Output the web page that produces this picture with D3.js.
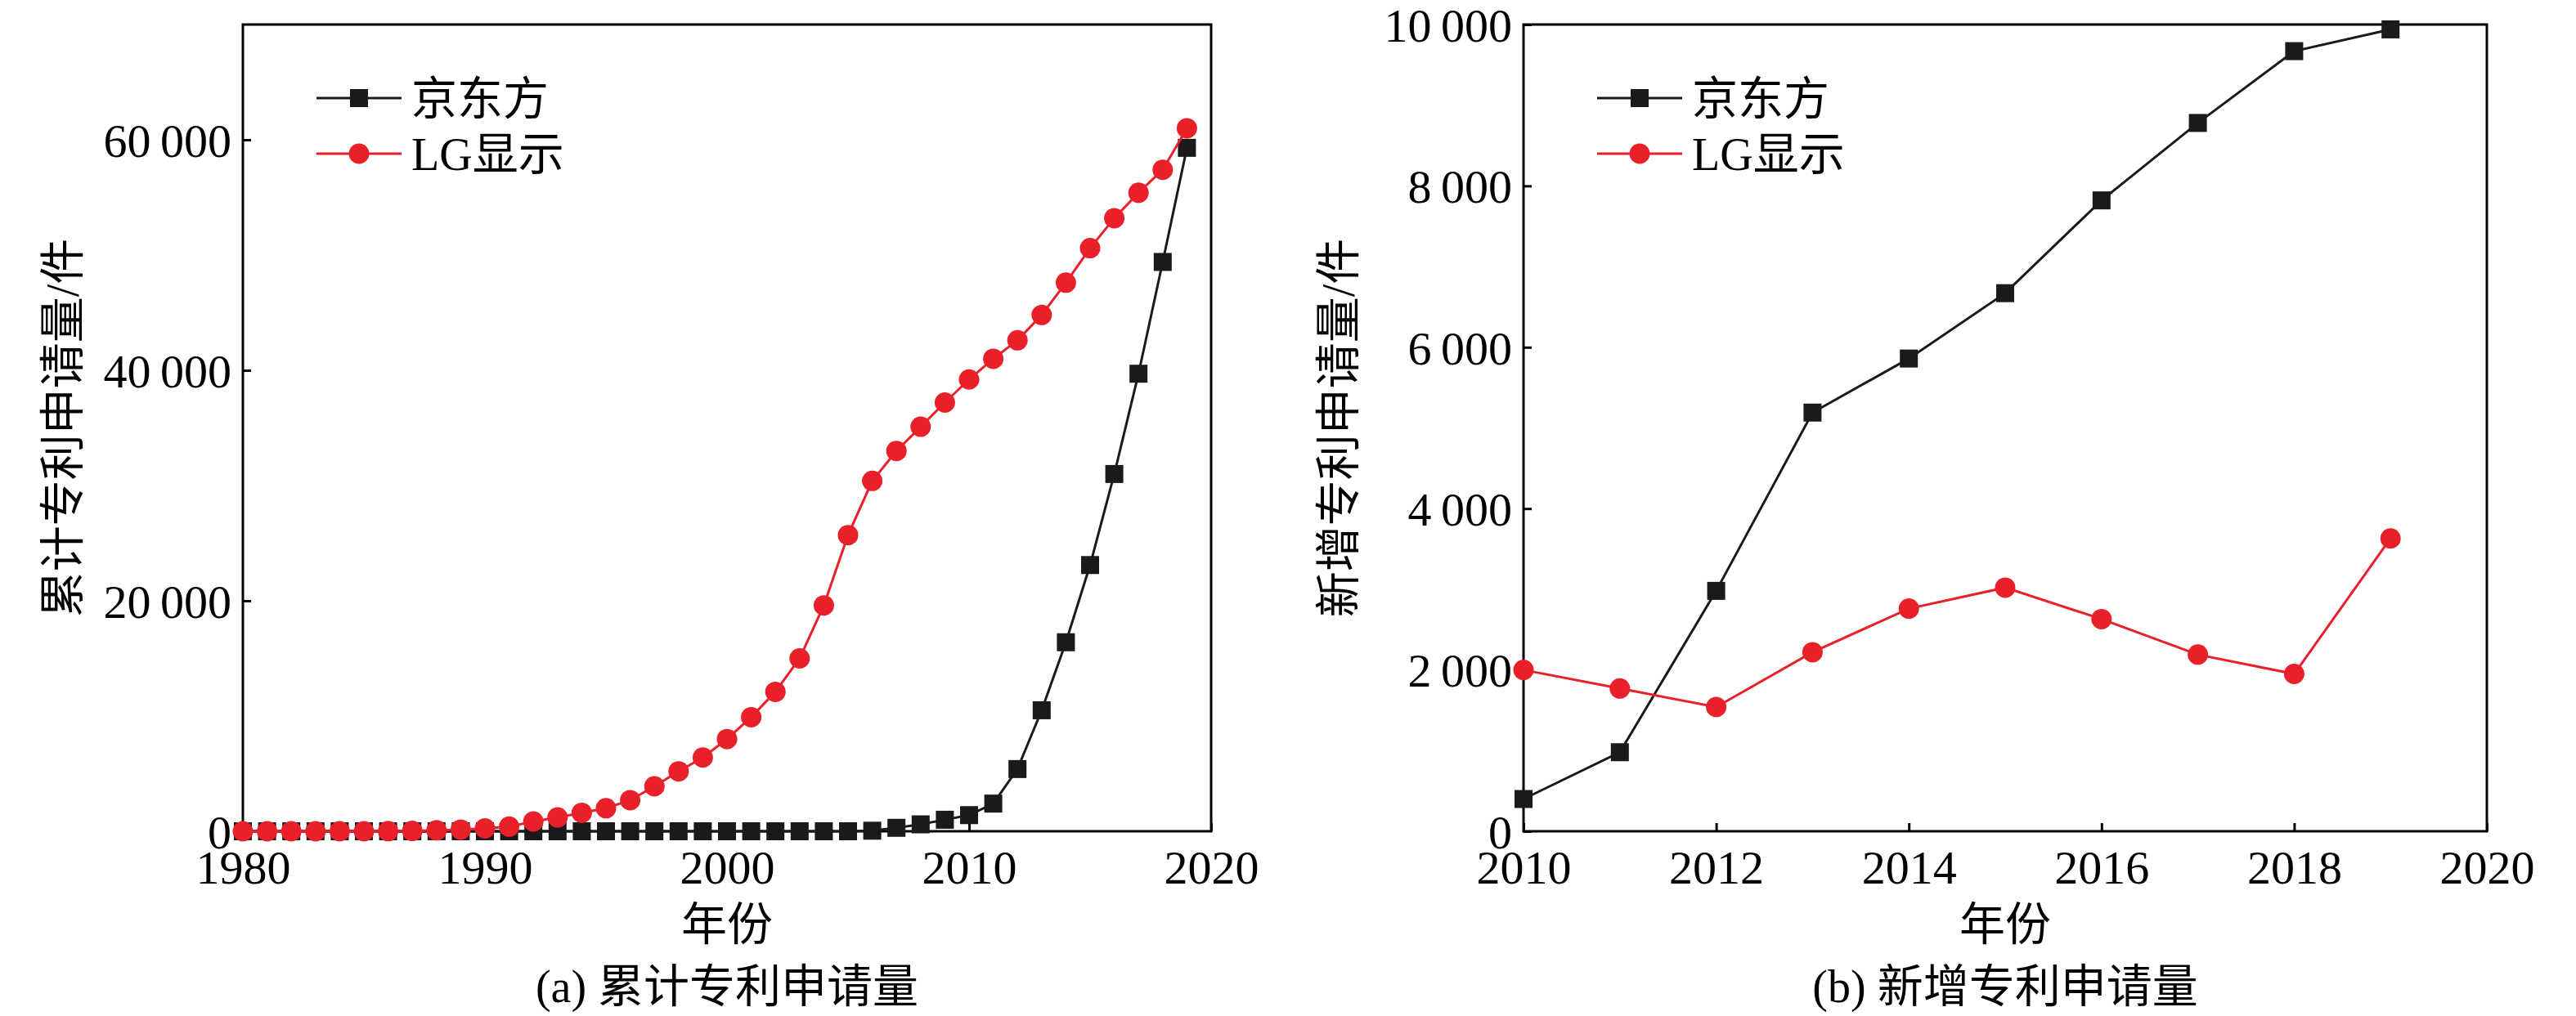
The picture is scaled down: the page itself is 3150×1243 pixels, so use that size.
<!DOCTYPE html>
<html><head><meta charset="utf-8">
<script src="https://cdn.jsdelivr.net/npm/d3@7"></script>
<style>body{margin:0;background:#fff}text{font-family:"Liberation Serif","Noto Sans CJK SC",serif}</style>
</head><body><svg id="c" width="3150" height="1243"></svg>
<script>
var yearsA = d3.range(1980, 2020);
var boeCum = [0,0,0,0,0,0,0,0,0,0, 0,0,0,0,0,0,0,0,0,0, 0,0,0,0,0,0,50,300,600,1000, 1400,2400,5400,10500,16400,23100,31000,39700,49400,59300];
var lgCum = [0,0,0,0,0,0,10,30,80,150, 250,400,850,1200,1600,2000,2700,3900,5200,6400, 8000,9900,12100,15000,19600,25700,30400,33000,35100,37200, 39200,41000,42600,44800,47600,50600,53200,55400,57400,61000];
var yearsB = d3.range(2010, 2020);
var boeNew = [400,980,2980,5190,5860,6670,7820,8780,9670,9940];
var lgNew = [2000,1770,1540,2220,2760,3020,2630,2190,1950,3630];
var seriesNames = ["京东方", "LG显示"];
var colors = ["#1a1a1a", "#e8202a"];

var svg = d3.select("#c");
var fmt = function(d){ return d3.format(",")(d).replace(/,/g, "\u2009"); };

function panel(o) {
  var g = svg.append("g");
  var x = d3.scaleLinear().domain(o.xd).range([o.l, o.r]);
  var y = d3.scaleLinear().domain(o.yd).range([o.b, o.t]);
  g.append("rect").attr("x", o.l).attr("y", o.t).attr("width", o.r - o.l).attr("height", o.b - o.t)
    .attr("fill", "none").attr("stroke", "#000").attr("stroke-width", 3);
  var ax = g.append("g").attr("transform", "translate(0," + o.b + ")")
    .call(d3.axisBottom(x).tickValues(o.xt).tickSize(-10).tickPadding(20).tickFormat(d3.format("d")));
  var ay = g.append("g").attr("transform", "translate(" + o.l + ",0)")
    .call(d3.axisLeft(y).tickValues(o.yt).tickSize(-10).tickPadding(14).tickFormat(fmt));
  [ax, ay].forEach(function(a){
    a.select(".domain").remove();
    a.selectAll("line").attr("stroke-width", 3);
    a.selectAll("text").attr("font-size", 58).attr("fill", "#000");
  });
  ax.selectAll("text").attr("dy", "0.75em");
  ay.selectAll("text").attr("dy", "0.35em");
  var line = d3.line().x(function(d){ return x(d[0]); }).y(function(d){ return y(d[1]); });
  o.series.forEach(function(s, i){
    var pts = o.xs.map(function(v, j){ return [v, s[j]]; });
    g.append("path").datum(pts).attr("d", line).attr("fill", "none").attr("stroke", colors[i]).attr("stroke-width", 3);
    if (i === 0) {
      g.selectAll(null).data(pts).enter().append("rect")
        .attr("x", function(d){ return x(d[0]) - 11; }).attr("y", function(d){ return y(d[1]) - 11; })
        .attr("width", 22).attr("height", 22).attr("fill", colors[0]);
    } else {
      g.selectAll(null).data(pts).enter().append("circle")
        .attr("cx", function(d){ return x(d[0]); }).attr("cy", function(d){ return y(d[1]); })
        .attr("r", 12.5).attr("fill", colors[1]);
    }
  });
  seriesNames.forEach(function(n, i){
    var ly = 120 + i * 68, lx = o.l + 90;
    g.append("line").attr("x1", lx).attr("x2", lx + 104).attr("y1", ly).attr("y2", ly).attr("stroke", colors[i]).attr("stroke-width", 3);
    if (i === 0) g.append("rect").attr("x", lx + 41).attr("y", ly - 11).attr("width", 22).attr("height", 22).attr("fill", colors[0]);
    else g.append("circle").attr("cx", lx + 52).attr("cy", ly).attr("r", 12.5).attr("fill", colors[1]);
    g.append("text").attr("x", lx + 116).attr("y", ly).attr("dy", "0.35em").attr("font-size", 56).text(n);
  });
  var cx = (o.l + o.r) / 2;
  g.append("text").attr("x", cx).attr("y", 1150).attr("text-anchor", "middle").attr("font-size", 56).text("年份");
  g.append("text").attr("x", cx).attr("y", 1226).attr("text-anchor", "middle").attr("font-size", 56).text(o.caption);
  g.append("text").attr("transform", "translate(" + o.ylx + "," + ((o.t + o.b) / 2) + ") rotate(-90)")
    .attr("text-anchor", "middle").attr("font-size", 56).text(o.ylabel);
}

panel({l: 297, r: 1481, t: 30, b: 1017, xd: [1980, 2020], yd: [0, 70000],
  xt: [1980, 1990, 2000, 2010, 2020], yt: [0, 20000, 40000, 60000], xs: yearsA,
  series: [boeCum, lgCum], caption: "(a) 累计专利申请量", ylabel: "累计专利申请量/件", ylx: 96});
panel({l: 1863, r: 3041, t: 30, b: 1017, xd: [2010, 2020], yd: [0, 10000],
  xt: d3.range(2010, 2021, 2), yt: d3.range(0, 10001, 2000), xs: yearsB,
  series: [boeNew, lgNew], caption: "(b) 新增专利申请量", ylabel: "新增专利申请量/件", ylx: 1656});
</script></body></html>
